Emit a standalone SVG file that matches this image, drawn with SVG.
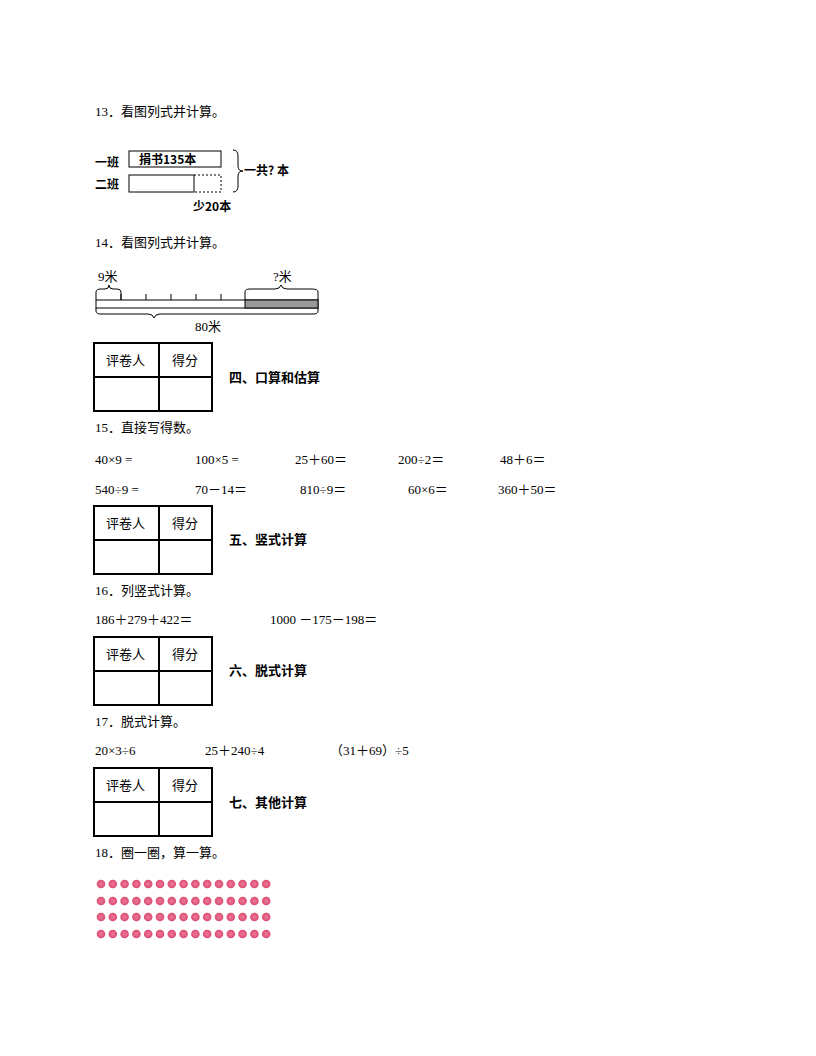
<svg xmlns="http://www.w3.org/2000/svg" width="816" height="1056" viewBox="0 0 816 1056">
<defs>
<style>
text{font-family:"Liberation Serif","Noto Sans CJK SC",serif;font-size:13px;fill:#000}
.b{font-family:"Noto Sans CJK SC",sans-serif;font-weight:bold;font-size:12px}
.h{font-family:"Noto Sans CJK SC",sans-serif;font-weight:bold;font-size:13px}
.t{fill:none;stroke:#000;stroke-width:2}
.l{fill:none;stroke:#000;stroke-width:1}
</style>
<g id="tbl"><rect x="0" y="0" width="118" height="68" class="t"/><line x1="0" y1="34" x2="118" y2="34" class="t"/><line x1="65" y1="0" x2="65" y2="68" class="t"/><text x="12" y="22" style="font-family:'Noto Sans CJK SC',sans-serif;font-size:13px">评卷人</text><text x="78" y="22" style="font-family:'Noto Sans CJK SC',sans-serif;font-size:13px">得分</text></g>
<radialGradient id="dg"><stop offset="0" stop-color="#f07a98"/><stop offset="1" stop-color="#d94a72"/></radialGradient>
<g id="dot"><circle r="4.3" fill="url(#dg)"/></g>
<g id="row"><use href="#dot" x="0"/><use href="#dot" x="11.8"/><use href="#dot" x="23.6"/><use href="#dot" x="35.4"/><use href="#dot" x="47.2"/><use href="#dot" x="59"/><use href="#dot" x="70.8"/><use href="#dot" x="82.6"/><use href="#dot" x="94.4"/><use href="#dot" x="106.2"/><use href="#dot" x="118"/><use href="#dot" x="129.8"/><use href="#dot" x="141.6"/><use href="#dot" x="153.4"/><use href="#dot" x="165.2"/></g>
</defs>
<rect width="816" height="1056" fill="#fff"/>
<text x="95" y="116">13．看图列式并计算。</text>
<g id="q13">
<text x="95" y="167" class="b">一班</text><text x="95" y="189" class="b">二班</text>
<rect x="129" y="151" width="92" height="16" class="l" stroke-width="1.3"/>
<text x="139" y="164" class="b">捐书135本</text>
<rect x="129" y="175" width="65" height="17" class="l" stroke-width="1.3"/>
<path d="M194 175 H221 V192 H194" fill="none" stroke="#000" stroke-dasharray="2,2"/>
<path d="M233 150 q5 0 5 6 v10 q0 5 5 5 q-5 0 -5 5 v10 q0 6 -5 6" class="l" stroke-width="1.3"/>
<text x="244" y="175" class="b">一共? 本</text>
<text x="193" y="211" class="b">少20本</text>
</g>
<text x="95" y="247">14．看图列式并计算。</text>
<g id="q14">
<rect x="96" y="300" width="222" height="8" fill="#fff" stroke="#000"/>
<rect x="245" y="300" width="73" height="8" fill="#999" stroke="#000"/>
<path d="M121 300 v-6 M146 300 v-6 M171 300 v-6 M196 300 v-6 M221 300 v-6" class="l"/>
<path d="M96 300 v-8 q0 -3 5 -3 h4 q4 0 4 -4 q0 4 4 4 h4 q4 0 4 3 v8" class="l"/>
<text x="98" y="281">9米</text>
<path d="M245 300 v-8 q0 -3 5 -3 h25 q5 0 6 -4 q1 4 6 4 h25 q6 0 6 3 v8" class="l"/>
<text x="273" y="281">?米</text>
<path d="M96 308 v3 q0 3 5 3 h47 q5 0 6 4 q1 -4 6 -4 h153 q5 0 5 -3 v-3" class="l"/>
<text x="195" y="331">80米</text>
</g>
<use href="#tbl" x="94" y="343"/><text x="229" y="382" class="h">四、口算和估算</text>
<text x="95" y="432">15．直接写得数。</text>
<text x="95" y="464">40×9 =</text><text x="195" y="464">100×5 =</text><text x="295" y="464">25＋60＝</text><text x="398" y="464">200÷2＝</text><text x="500" y="464">48＋6＝</text>
<text x="95" y="494">540÷9 =</text><text x="195" y="494">70－14＝</text><text x="300" y="494">810÷9＝</text><text x="408" y="494">60×6＝</text><text x="498" y="494">360＋50＝</text>
<use href="#tbl" x="94" y="506"/><text x="229" y="544" class="h">五、竖式计算</text>
<text x="95" y="595">16．列竖式计算。</text>
<text x="95" y="624">186＋279＋422＝</text><text x="270" y="624">1000 －175－198＝</text>
<use href="#tbl" x="94" y="637"/><text x="229" y="675" class="h">六、脱式计算</text>
<text x="95" y="726">17．脱式计算。</text>
<text x="95" y="755">20×3÷6</text><text x="205" y="755">25＋240÷4</text><text x="330" y="755">（31＋69）÷5</text>
<use href="#tbl" x="94" y="768"/><text x="229" y="807" class="h">七、其他计算</text>
<text x="95" y="857">18．圈一圈，算一算。</text>
<g id="dots">
<use href="#row" x="101" y="884"/><use href="#row" x="101" y="901"/><use href="#row" x="101" y="917"/><use href="#row" x="101" y="934"/>
</g>
</svg>
